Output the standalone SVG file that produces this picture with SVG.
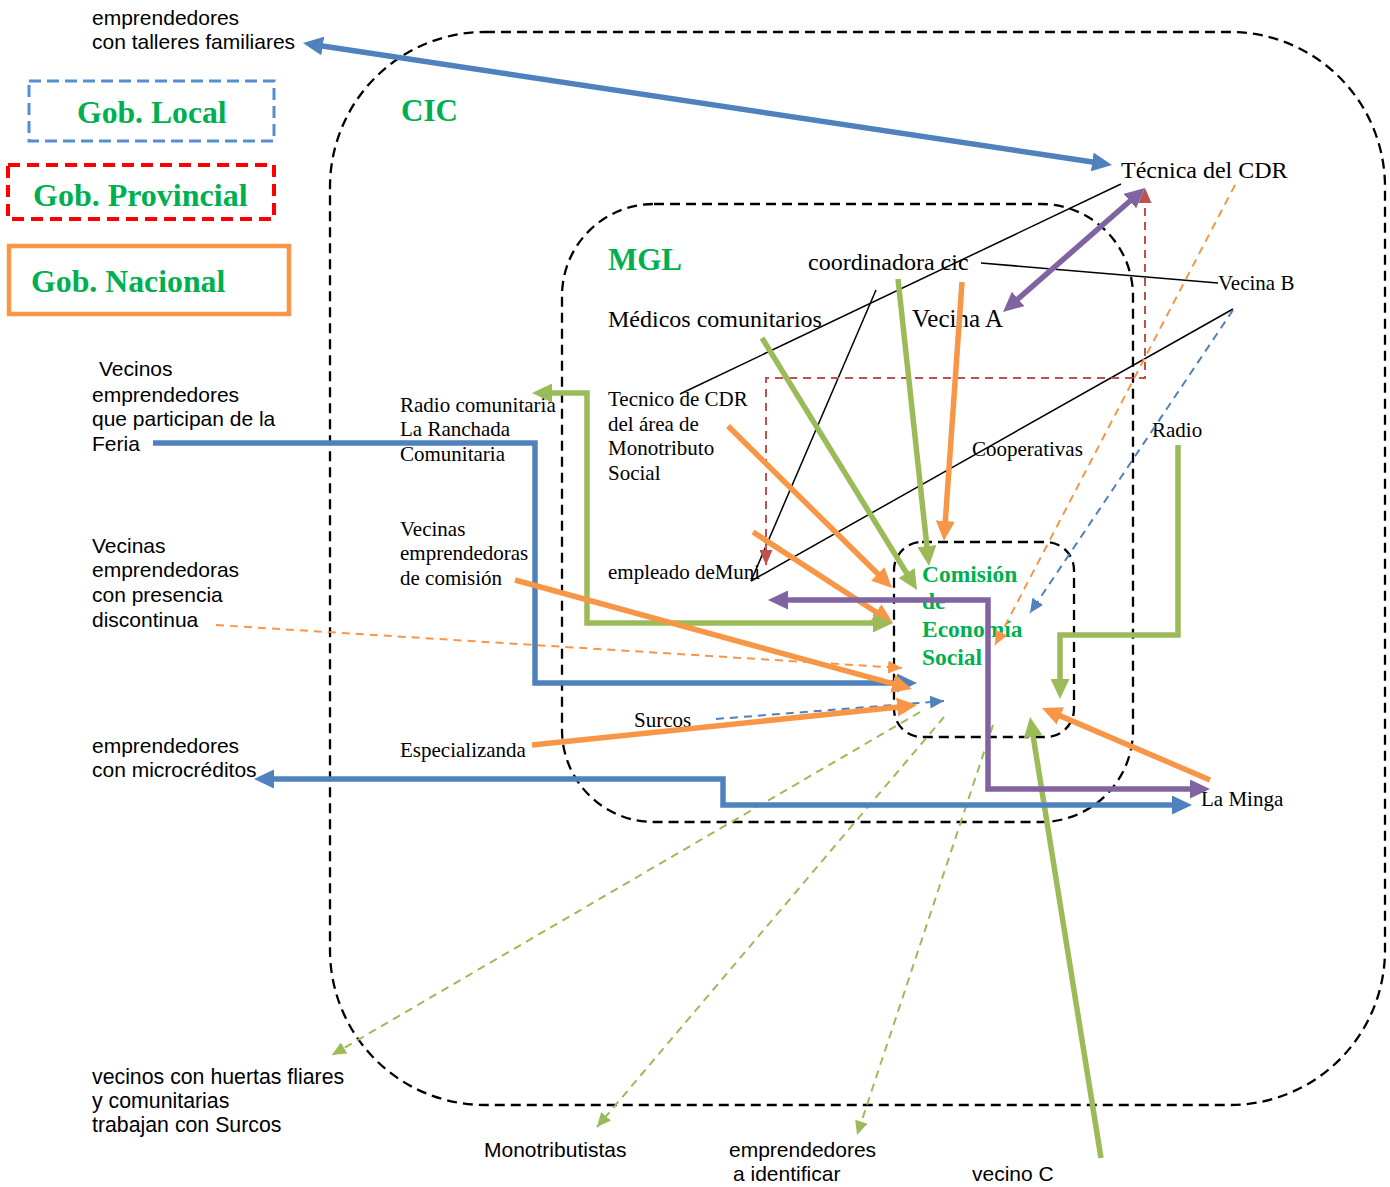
<svg xmlns="http://www.w3.org/2000/svg" width="1390" height="1187" viewBox="0 0 1390 1187">
<style>
.cont{fill:none;stroke:#000;stroke-width:2.3;stroke-dasharray:10,6}
.s{font-family:"Liberation Serif","Times New Roman",serif;font-size:21px;fill:#000}
.big{font-size:24px}
.a{font-family:"Liberation Sans",Arial,sans-serif;font-size:21px;fill:#000}
.g{font-family:"Liberation Serif","Times New Roman",serif;font-weight:bold;fill:#00B050}
.t{fill:none;stroke-width:5.5}
.d{fill:none;stroke-width:2;stroke-dasharray:8,6}
.k{fill:none;stroke:#000;stroke-width:1.5}
</style>
<defs>
<marker id="mb" viewBox="0 0 20 19" markerWidth="20" markerHeight="19" refX="2" refY="9.5" markerUnits="userSpaceOnUse" orient="auto-start-reverse"><path d="M0,0 L20,9.5 L0,19 z" fill="#4F81BD"/></marker>
<marker id="mg" viewBox="0 0 20 19" markerWidth="20" markerHeight="19" refX="2" refY="9.5" markerUnits="userSpaceOnUse" orient="auto-start-reverse"><path d="M0,0 L20,9.5 L0,19 z" fill="#9BBB59"/></marker>
<marker id="mo" viewBox="0 0 20 19" markerWidth="20" markerHeight="19" refX="2" refY="9.5" markerUnits="userSpaceOnUse" orient="auto-start-reverse"><path d="M0,0 L20,9.5 L0,19 z" fill="#F79646"/></marker>
<marker id="mp" viewBox="0 0 20 19" markerWidth="20" markerHeight="19" refX="2" refY="9.5" markerUnits="userSpaceOnUse" orient="auto-start-reverse"><path d="M0,0 L20,9.5 L0,19 z" fill="#8064A2"/></marker>
<marker id="dob" viewBox="0 0 14 13" markerWidth="14" markerHeight="13" refX="14" refY="6.5" markerUnits="userSpaceOnUse" orient="auto-start-reverse"><path d="M0,0 L14,6.5 L0,13 z" fill="#F79646"/></marker>
<marker id="dbb" viewBox="0 0 14 13" markerWidth="14" markerHeight="13" refX="14" refY="6.5" markerUnits="userSpaceOnUse" orient="auto-start-reverse"><path d="M0,0 L14,6.5 L0,13 z" fill="#4F81BD"/></marker>
<marker id="dgb" viewBox="0 0 14 13" markerWidth="14" markerHeight="13" refX="14" refY="6.5" markerUnits="userSpaceOnUse" orient="auto-start-reverse"><path d="M0,0 L14,6.5 L0,13 z" fill="#9BBB59"/></marker>
<marker id="drb" viewBox="0 0 15 13" markerWidth="15" markerHeight="13" refX="15" refY="6.5" markerUnits="userSpaceOnUse" orient="auto-start-reverse"><path d="M0,0 L15,6.5 L0,13 z" fill="#C0504D"/></marker>
</defs>
<rect width="1390" height="1187" fill="#fff"/>

<g id="cic">
<rect class="cont" x="330" y="32" width="1055" height="1073" rx="155" ry="155"/>
<text class="g" x="401" y="121" font-size="31">CIC</text>
</g>
<g id="mgl">
<rect class="cont" x="562" y="204" width="571" height="618" rx="92" ry="92"/>
<text class="g" x="608" y="270" font-size="31">MGL</text>
</g>
<g id="comision">
<rect class="cont" x="894" y="542" width="180" height="195" rx="28" ry="28"/>
<text class="g" font-size="23.5"><tspan x="922" y="582">Comisión</tspan><tspan x="922" y="609">de</tspan><tspan x="922" y="637">Economía</tspan><tspan x="922" y="665">Social</tspan></text>
</g>

<g id="gob-local">
<rect x="29" y="81" width="245" height="60" fill="none" stroke="#558ED5" stroke-width="3" stroke-dasharray="12,6"/>
<text class="g" x="77" y="123" font-size="31.7">Gob. Local</text>
</g>
<g id="gob-provincial">
<rect x="8" y="165" width="266" height="54" fill="none" stroke="#FF0000" stroke-width="4" stroke-dasharray="12,7"/>
<text class="g" x="33" y="206" font-size="32">Gob. Provincial</text>
</g>
<g id="gob-nacional">
<rect x="9" y="246" width="280" height="68" fill="none" stroke="#F79646" stroke-width="4.5"/>
<text class="g" x="31" y="292" font-size="31.8">Gob. Nacional</text>
</g>

<g id="n-talleres"><text class="a"><tspan x="92" y="25">emprendedores</tspan><tspan x="92" y="49">con talleres familiares</tspan></text></g>
<g id="n-feria"><text class="a"><tspan x="99" y="376">Vecinos</tspan><tspan x="92" y="402">emprendedores</tspan><tspan x="92" y="426">que participan de la</tspan><tspan x="92" y="451">Feria</tspan></text></g>
<g id="n-discontinua"><text class="a"><tspan x="92" y="553">Vecinas</tspan><tspan x="92" y="577">emprendedoras</tspan><tspan x="92" y="602">con presencia</tspan><tspan x="92" y="627">discontinua</tspan></text></g>
<g id="n-microcreditos"><text class="a"><tspan x="92" y="753">emprendedores</tspan><tspan x="92" y="777">con microcréditos</tspan></text></g>
<g id="n-huertas"><text class="a" style="font-size:21.3px"><tspan x="92" y="1084">vecinos con huertas fliares</tspan><tspan x="92" y="1108">y comunitarias</tspan><tspan x="92" y="1132">trabajan con Surcos</tspan></text></g>
<g id="n-monotributistas"><text class="a" x="484" y="1157">Monotributistas</text></g>
<g id="n-identificar"><text class="a"><tspan x="729" y="1157">emprendedores</tspan><tspan x="733" y="1181">a identificar</tspan></text></g>
<g id="n-vecinoc"><text class="a" x="972" y="1181">vecino C</text></g>

<g id="n-tecnica"><text class="s big" x="1121" y="178">Técnica del CDR</text></g>
<g id="n-coordinadora"><text class="s big" x="808" y="270">coordinadora cic</text></g>
<g id="n-vecinab"><text class="s" x="1218" y="290">Vecina B</text></g>
<g id="n-medicos"><text class="s big" x="608" y="327">Médicos comunitarios</text></g>
<g id="n-vecinaa"><text class="s big" x="912" y="327" style="font-size:25px">Vecina A</text></g>
<g id="n-tecnico"><text class="s"><tspan x="608" y="406">Tecnico de CDR</tspan><tspan x="608" y="431">del área de</tspan><tspan x="608" y="455">Monotributo</tspan><tspan x="608" y="480">Social</tspan></text></g>
<g id="n-radiocom"><text class="s"><tspan x="400" y="412">Radio comunitaria</tspan><tspan x="400" y="436">La Ranchada</tspan><tspan x="400" y="461">Comunitaria</tspan></text></g>
<g id="n-cooperativas"><text class="s" x="972" y="456">Cooperativas</text></g>
<g id="n-radio"><text class="s" x="1152" y="437">Radio</text></g>
<g id="n-vecinascom"><text class="s"><tspan x="400" y="536">Vecinas</tspan><tspan x="400" y="560">emprendedoras</tspan><tspan x="400" y="585">de comisión</tspan></text></g>
<g id="n-empleado"><text class="s" x="608" y="579">empleado deMuni</text></g>
<g id="n-surcos"><text class="s" x="634" y="727">Surcos</text></g>
<g id="n-especializanda"><text class="s" x="400" y="757">Especializanda</text></g>
<g id="n-laminga"><text class="s" x="1201" y="806">La Minga</text></g>

<g id="connectors">
<line class="k" x1="680" y1="394" x2="1121" y2="184"/>
<line class="k" x1="981" y1="263" x2="1218" y2="283"/>
<line class="k" x1="876" y1="290" x2="751" y2="581"/>
<line class="k" x1="1233" y1="309" x2="751" y2="581"/>

<path class="d" stroke="#C0504D" d="M766,565 V378 H1145 V188" marker-start="url(#drb)" marker-end="url(#drb)"/>
<line class="d" stroke="#F79646" x1="216" y1="625" x2="902" y2="668" marker-end="url(#dob)"/>
<line class="d" stroke="#F79646" x1="1235" y1="185" x2="995" y2="645" marker-end="url(#dob)"/>
<line class="d" stroke="#4F81BD" x1="716" y1="719" x2="944" y2="701" marker-end="url(#dbb)"/>
<line class="d" stroke="#4F81BD" x1="1233" y1="310" x2="1030" y2="613" marker-end="url(#dbb)"/>
<line class="d" stroke="#9BBB59" x1="920" y1="712" x2="332" y2="1055" marker-end="url(#dgb)"/>
<line class="d" stroke="#9BBB59" x1="944" y1="717" x2="597" y2="1127" marker-end="url(#dgb)"/>
<line class="d" stroke="#9BBB59" x1="993" y1="725" x2="857" y2="1135" marker-end="url(#dgb)"/>

<line class="t" stroke="#4F81BD" x1="320.8" y1="45.7" x2="1094.2" y2="162.3" marker-start="url(#mb)" marker-end="url(#mb)"/>
<line class="t" stroke="#8064A2" x1="1016.6" y1="300.2" x2="1131.4" y2="199.8" marker-start="url(#mp)" marker-end="url(#mp)"/>
<line class="t" stroke="#9BBB59" x1="762" y1="338" x2="907.6" y2="574.7" marker-end="url(#mg)"/>
<line class="t" stroke="#9BBB59" x1="898" y1="279" x2="927.1" y2="548.1" marker-end="url(#mg)"/>
<line class="t" stroke="#F79646" x1="962" y1="282" x2="945.2" y2="523" marker-end="url(#mo)"/>
<line class="t" stroke="#F79646" x1="728" y1="426" x2="879.2" y2="575.3" marker-end="url(#mo)"/>
<line class="t" stroke="#F79646" x1="753" y1="532" x2="877.9" y2="613.2" marker-end="url(#mo)"/>
<path class="t" stroke="#9BBB59" d="M550,393 H587 V623 H875" marker-start="url(#mg)" marker-end="url(#mg)"/>
<path class="t" stroke="#4F81BD" d="M153,443 H535 V683 H899" marker-end="url(#mb)"/>
<line class="t" stroke="#F79646" x1="515" y1="580" x2="894.6" y2="684.2" marker-end="url(#mo)"/>
<line class="t" stroke="#F79646" x1="532" y1="745" x2="899.1" y2="706.9" marker-end="url(#mo)"/>
<path class="t" stroke="#9BBB59" d="M1178,445 V635 H1060 V681" marker-end="url(#mg)"/>
<line class="t" stroke="#F79646" x1="1210" y1="780" x2="1058.5" y2="715.1" marker-end="url(#mo)"/>
<line class="t" stroke="#9BBB59" x1="1101" y1="1158" x2="1032.9" y2="734.8" marker-end="url(#mg)"/>
<path class="t" stroke="#8064A2" d="M786,600 H988 V789 H1192" marker-start="url(#mp)" marker-end="url(#mp)"/>
<path class="t" stroke="#4F81BD" d="M272,779 H723 V805 H1174" marker-start="url(#mb)" marker-end="url(#mb)"/>
</g>
</svg>
